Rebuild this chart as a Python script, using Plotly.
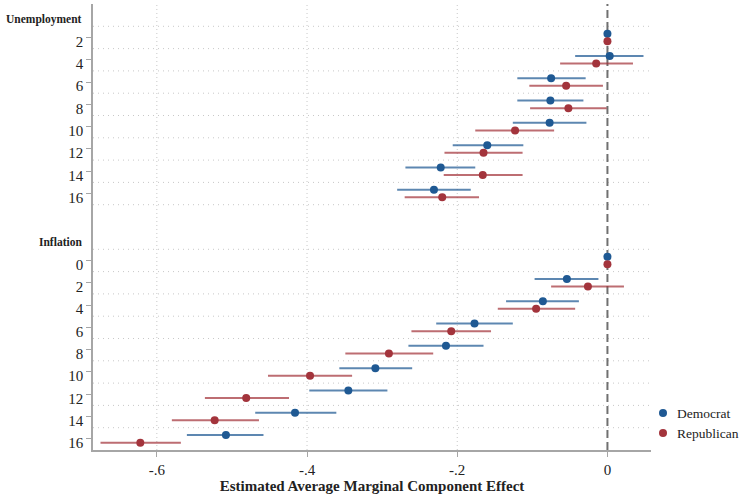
import plotly.graph_objects as go

# ---------------- data ----------------
unemp_levels = ["2", "4", "6", "8", "10", "12", "14", "16"]
infl_levels = ["0", "2", "4", "6", "8", "10", "12", "14", "16"]

dem_unemp_est = [0.0, 0.003, -0.075, -0.076, -0.077, -0.160, -0.222, -0.231]
dem_unemp_lo = [0.0, -0.043, -0.120, -0.120, -0.126, -0.206, -0.269, -0.280]
dem_unemp_hi = [0.0, 0.048, -0.029, -0.032, -0.028, -0.112, -0.176, -0.182]

rep_unemp_est = [0.0, -0.015, -0.055, -0.052, -0.123, -0.165, -0.166, -0.220]
rep_unemp_lo = [0.0, -0.063, -0.104, -0.103, -0.176, -0.217, -0.218, -0.270]
rep_unemp_hi = [0.0, 0.034, -0.006, -0.001, -0.071, -0.113, -0.113, -0.171]

dem_infl_est = [0.0, -0.054, -0.086, -0.177, -0.215, -0.309, -0.345, -0.416, -0.508]
dem_infl_lo = [0.0, -0.097, -0.135, -0.228, -0.265, -0.357, -0.397, -0.469, -0.560]
dem_infl_hi = [0.0, -0.012, -0.038, -0.126, -0.165, -0.260, -0.293, -0.361, -0.458]

rep_infl_est = [0.0, -0.026, -0.095, -0.208, -0.291, -0.396, -0.481, -0.523, -0.622]
rep_infl_lo = [0.0, -0.075, -0.146, -0.261, -0.349, -0.452, -0.536, -0.580, -0.675]
rep_infl_hi = [0.0, 0.022, -0.043, -0.155, -0.232, -0.340, -0.424, -0.464, -0.568]

groups = ["Unemployment", "Inflation"]
x_tickvals = [-0.6, -0.4, -0.2, 0.0]
x_ticktext = ["-.6", "-.4", "-.2", "0"]
legend_names = ["Democrat", "Republican"]

# ---------------- styling / row layout ----------------
FONT = "Liberation Serif, DejaVu Serif, serif"
BLUE = "#1f5993"
RED = "#a3343c"
BLUE_L = "rgba(31,89,147,0.72)"
RED_L = "rgba(163,52,60,0.72)"
OFF = 0.17
TXT = "#222222"
AX = "#a6a6a6"
GRID = "#c8c8c8"

header_rows = [0, len(unemp_levels) + 2]
unemp_rows = [header_rows[0] + 1 + i for i in range(len(unemp_levels))]
infl_rows = [header_rows[1] + 1 + i for i in range(len(infl_levels))]
n_rows = infl_rows[-1] + 1
rows = unemp_rows + infl_rows

def errs(est, lo, hi):
    return [h - e for e, h in zip(est, hi)], [e - l for e, l in zip(est, lo)]

fig = go.Figure()

# vertical dotted gridlines (not at 0, where the dashed reference line is)
for xv in x_tickvals[:-1]:
    fig.add_shape(type="line", x0=xv, x1=xv, xref="x", y0=0, y1=1, yref="paper",
                  line=dict(color=GRID, width=1, dash="1px,3px"), layer="below")

# horizontal dotted gridlines between categories (not across the gap row)
grid_rows = [r + 0.5 for r in [header_rows[0]] + unemp_rows + [header_rows[1]] + infl_rows[:-1]]
for g in grid_rows:
    fig.add_shape(type="line", x0=0, x1=1, xref="paper", y0=g, y1=g, yref="y",
                  line=dict(color=GRID, width=1, dash="1px,4px"), layer="below")

# zero reference line
fig.add_shape(type="line", x0=0, x1=0, xref="x", y0=0, y1=1, yref="paper",
              line=dict(color="#707070", width=2, dash="8px,4px"), layer="between")

series = [
    (legend_names[0], BLUE, BLUE_L, -OFF,
     dem_unemp_est + dem_infl_est, dem_unemp_lo + dem_infl_lo, dem_unemp_hi + dem_infl_hi),
    (legend_names[1], RED, RED_L, OFF,
     rep_unemp_est + rep_infl_est, rep_unemp_lo + rep_infl_lo, rep_unemp_hi + rep_infl_hi),
]
for name, col, lcol, off, est, lo, hi in series:
    plus, minus = errs(est, lo, hi)
    fig.add_trace(go.Scatter(
        x=est, y=[r + off for r in rows], mode="markers", name=name, showlegend=False,
        marker=dict(color=col, size=8, line=dict(width=0)),
        error_x=dict(type="data", symmetric=False, array=plus, arrayminus=minus,
                     color=lcol, thickness=2, width=0),
    ))

# group headers
for g, r in zip(groups, header_rows):
    fig.add_annotation(text="<b>" + g + "</b>", x=0, xref="paper", xanchor="right",
                       y=r, yref="y", yshift=-4, xshift=-9, showarrow=False,
                       font=dict(family=FONT, size=11.5, color=TXT))

# manual legend (outside the plot area, right side, bottom)
PLOT_L, PLOT_R, PLOT_T, PLOT_B = 93, 651, 4, 450
def px_to_paper_x(px):
    return (px - PLOT_L) / (PLOT_R - PLOT_L)
def px_to_paper_y(py):
    return 1 - (py - PLOT_T) / (PLOT_B - PLOT_T)

for i, (name, col) in enumerate(zip(legend_names, [BLUE, RED])):
    yy = px_to_paper_y(413 + 20 * i)
    fig.add_shape(type="circle", xref="paper", yref="paper",
                  xsizemode="pixel", ysizemode="pixel",
                  xanchor=px_to_paper_x(663), yanchor=yy,
                  x0=-4, x1=4, y0=-4, y1=4,
                  fillcolor=col, line=dict(width=0))
    fig.add_annotation(text=name, x=px_to_paper_x(675), xref="paper", xanchor="left",
                       y=yy, yref="paper", yanchor="middle", showarrow=False,
                       font=dict(family=FONT, size=13.5, color=TXT))

fig.update_layout(
    width=740, height=495,
    margin=dict(l=PLOT_L, r=740 - PLOT_R, t=PLOT_T, b=495 - PLOT_B, autoexpand=False),
    paper_bgcolor="white", plot_bgcolor="white",
    font=dict(family=FONT, color=TXT),
    showlegend=False,
    xaxis=dict(
        range=[-0.685, 0.058], tickvals=x_tickvals, ticktext=x_ticktext,
        showgrid=False, zeroline=False, showline=True, linecolor=AX, linewidth=1.5,
        ticks="outside", ticklen=5, tickcolor=AX, tickwidth=1.2,
        tickfont=dict(family=FONT, size=15, color=TXT), automargin=False,
        title=dict(text="<b>Estimated Average Marginal Component Effect</b>",
                   font=dict(family=FONT, size=15, color=TXT), standoff=0),
    ),
    yaxis=dict(
        range=[n_rows - 0.5, -0.5],
        tickvals=rows, ticktext=unemp_levels + infl_levels,
        showgrid=False, zeroline=False, showline=True, linecolor=AX, linewidth=1.5,
        ticks="outside", ticklen=5, tickcolor=AX, tickwidth=1.2,
        tickfont=dict(family=FONT, size=15, color=TXT), automargin=False,
        ticklabelshift=-4,
    ),
)

fig.write_html("out.html", config={"displayModeBar": False},
               post_script="document.body.style.margin='0px';document.body.style.overflow='hidden';")
